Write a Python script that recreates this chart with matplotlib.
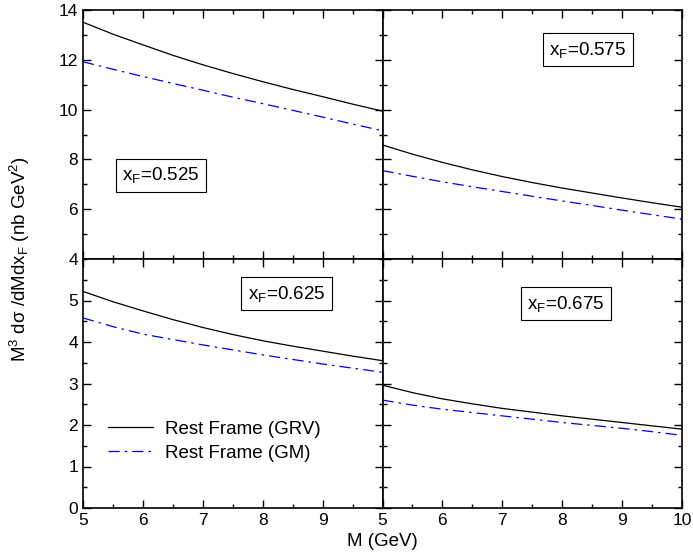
import matplotlib

matplotlib.use("Agg")

import matplotlib.pyplot as plt
from matplotlib.ticker import MultipleLocator

plt.rcParams["font.family"] = ["Liberation Sans", "DejaVu Sans"]
plt.rcParams["font.size"] = 12
plt.rcParams["mathtext.fontset"] = "custom"
plt.rcParams["mathtext.rm"] = "Liberation Sans"
plt.rcParams["mathtext.it"] = "Liberation Sans"

# mass grid (GeV)
mass = [5, 5.5, 6, 6.5, 7, 7.5, 8, 8.5, 9, 9.5, 10]

# M^3 dsigma/dM dx_F for each x_F bin, two parton sets
grv_0525 = [13.51, 13.03, 12.60, 12.18, 11.80, 11.45, 11.12, 10.81, 10.52, 10.22, 9.94]
gm_0525 = [11.92, 11.62, 11.33, 11.05, 10.78, 10.50, 10.24, 9.97, 9.70, 9.42, 9.15]

grv_0575 = [8.58, 8.21, 7.88, 7.58, 7.31, 7.07, 6.85, 6.65, 6.45, 6.26, 6.08]
gm_0575 = [7.55, 7.32, 7.10, 6.90, 6.71, 6.52, 6.33, 6.15, 5.96, 5.78, 5.60]

grv_0625 = [5.22, 4.97, 4.75, 4.54, 4.35, 4.18, 4.03, 3.90, 3.78, 3.66, 3.55]
gm_0625 = [4.58, 4.37, 4.19, 4.06, 3.93, 3.81, 3.69, 3.58, 3.47, 3.37, 3.27]

grv_0675 = [2.96, 2.78, 2.63, 2.51, 2.40, 2.31, 2.22, 2.14, 2.06, 1.98, 1.90]
gm_0675 = [2.60, 2.48, 2.38, 2.30, 2.22, 2.14, 2.06, 1.99, 1.92, 1.84, 1.75]

xf_labels = ["0.525", "0.575", "0.625", "0.675"]

fig = plt.figure(figsize=(6.93, 5.54), dpi=100)

left, w = 83 / 693, 299.5 / 693
bot, h = 1 - 508 / 554, 249 / 554
axes = [
    fig.add_axes([left, bot + h, w, h]),
    fig.add_axes([left + w, bot + h, w, h]),
    fig.add_axes([left, bot, w, h]),
    fig.add_axes([left + w, bot, w, h]),
]

curves = [
    (grv_0525, gm_0525),
    (grv_0575, gm_0575),
    (grv_0625, gm_0625),
    (grv_0675, gm_0675),
]
label_pos = [(0.26, 0.337), (0.685, 0.84), (0.68, 0.86), (0.612, 0.82)]

dashdot = (0, (9, 4, 2, 4))

for i, ax in enumerate(axes):
    grv, gm = curves[i]
    ax.plot(mass, grv, color="black", lw=0.9, label="Rest Frame (GRV)")
    ax.plot(mass, gm, color="#0000ee", lw=0.9, linestyle=dashdot,
            label="Rest Frame (GM)")
    ax.set_xlim(5, 10)
    ax.xaxis.set_major_locator(MultipleLocator(1))
    ax.xaxis.set_minor_locator(MultipleLocator(0.5))
    if i < 2:
        ax.set_ylim(4, 14)
        ax.yaxis.set_major_locator(MultipleLocator(2))
        ax.yaxis.set_minor_locator(MultipleLocator(1))
    else:
        ax.set_ylim(0, 6)
        ax.yaxis.set_major_locator(MultipleLocator(1))
        ax.yaxis.set_minor_locator(MultipleLocator(0.5))
    ax.tick_params(which="both", direction="in", top=True, right=True,
                   width=1, labelsize=12.5)
    ax.tick_params(which="major", length=6)
    ax.tick_params(which="minor", length=3)
    for s in ax.spines.values():
        s.set_linewidth(1.2)

    lx, ly = label_pos[i]
    ax.text(lx, ly, r"x$_{\rm F}$=" + xf_labels[i], transform=ax.transAxes,
            ha="center", va="center", fontsize=13.5,
            bbox=dict(boxstyle="square,pad=0.35", fc="white", ec="black",
                      lw=0.8))

# tick labels only on the outer edges
axes[0].tick_params(labelbottom=False)
axes[1].tick_params(labelbottom=False, labelleft=False)
axes[3].tick_params(labelleft=False)
axes[2].set_xticks([5, 6, 7, 8, 9])
axes[2].set_yticks([0, 1, 2, 3, 4, 5])

axes[2].legend(loc="upper left", bbox_to_anchor=(0.085, 0.35), frameon=False,
               fontsize=13.5, handlelength=2.4, handletextpad=0.6,
               labelspacing=0.35, borderpad=0, borderaxespad=0)

fig.text(0.029, bot + h, r"M$^3$ d$\sigma$ /dMdx$_{\rm F}$ (nb GeV$^2$)",
         rotation=90, ha="center", va="center", fontsize=13.5)
fig.text(left + w, 0.022, "M (GeV)", ha="center", va="center",
         fontsize=13.5)

fig.savefig("out.png", dpi=100)
